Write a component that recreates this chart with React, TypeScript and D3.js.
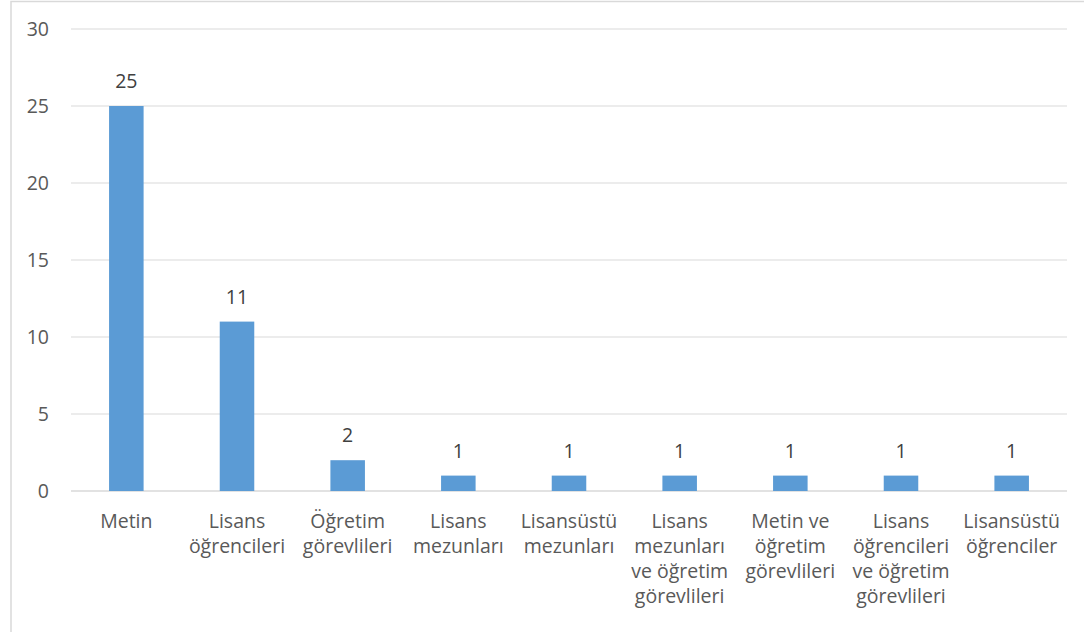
import React from "react";
import * as d3 from "d3";

const categories: string[][] = [
  ["Metin"],
  ["Lisans", "öğrencileri"],
  ["Öğretim", "görevlileri"],
  ["Lisans", "mezunları"],
  ["Lisansüstü", "mezunları"],
  ["Lisans", "mezunları", "ve öğretim", "görevlileri"],
  ["Metin ve", "öğretim", "görevlileri"],
  ["Lisans", "öğrencileri", "ve öğretim", "görevlileri"],
  ["Lisansüstü", "öğrenciler"],
];
const values: number[] = [25, 11, 2, 1, 1, 1, 1, 1, 1];
const yTicks: number[] = [0, 5, 10, 15, 20, 25, 30];

const W = 1084;
const H = 632;
const left = 71;
const right = 1067;
const top = 29;
const bottom = 491;
const FONT = "'Open Sans', 'Noto Sans', sans-serif";
const TEXT = "#595959";
const FS = 19.5;

export default function App() {
  const keys = categories.map((_, i) => String(i));
  const x = d3.scaleBand<string>().domain(keys).range([left, right]).padding(0);
  const y = d3.scaleLinear().domain([0, 30]).range([bottom, top]);
  const barW = x.bandwidth() * 0.312;

  return (
    <svg
      width={W}
      height={H}
      style={{ position: "absolute", left: 0, top: 0, background: "#fff" }}
      fontFamily={FONT}
    >
      <rect x={11} y={1.5} width={1200} height={800} fill="#fff" stroke="#D9D9D9" strokeWidth={1.5} />
      {yTicks.map((t) => (
        <g key={t}>
          <line x1={left} x2={right} y1={y(t)} y2={y(t)} stroke="#D9D9D9" strokeWidth={t === 0 ? 1.5 : 1.2} />
          <text x={49} y={y(t)} dy="0.36em" textAnchor="end" fontSize={FS} fill={TEXT}>
            {t}
          </text>
        </g>
      ))}
      {values.map((v, i) => {
        const cx = (x(String(i)) as number) + x.bandwidth() / 2;
        return (
          <g key={i}>
            <rect x={cx - barW / 2} y={y(v)} width={barW} height={bottom - y(v)} fill="#5B9BD5" />
            <text x={cx} y={y(v) - 18} textAnchor="middle" fontSize={FS} fill="#404040">
              {v}
            </text>
          </g>
        );
      })}
      {categories.map((lines, i) => {
        const cx = (x(String(i)) as number) + x.bandwidth() / 2;
        return (
          <text key={i} x={cx} y={528} textAnchor="middle" fontSize={FS} fill={TEXT}>
            {lines.map((l, j) => (
              <tspan key={j} x={cx} y={528 + j * 25}>
                {l}
              </tspan>
            ))}
          </text>
        );
      })}
    </svg>
  );
}
